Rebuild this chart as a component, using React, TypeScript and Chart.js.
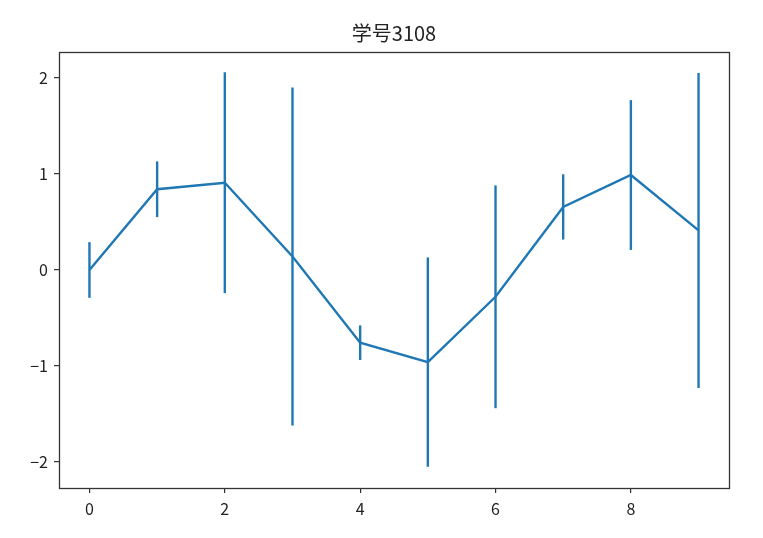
import React, { useEffect, useRef } from "react";
import { Chart, registerables } from "chart.js";

Chart.register(...registerables);

const TITLE = "学号3108";
const xValues = [0, 1, 2, 3, 4, 5, 6, 7, 8, 9];
const yValues = [0, 0.841, 0.909, 0.141, -0.757, -0.959, -0.279, 0.657, 0.989, 0.412];
const yErrors = [0.29, 0.29, 1.15, 1.76, 0.18, 1.09, 1.16, 0.34, 0.78, 1.64];
const xTicks = [0, 2, 4, 6, 8];
const yTicks = [-2, -1, 0, 1, 2];

const LINE_COLOR = "#1f77b4";
const FONT = "'Noto Sans CJK SC', 'DejaVu Sans', sans-serif";

const errorBarPlugin = {
  id: "errorBars",
  beforeDatasetsDraw(chart: any) {
    const { ctx, scales } = chart;
    const xs = scales.x;
    const ys = scales.y;
    ctx.save();
    ctx.strokeStyle = LINE_COLOR;
    ctx.lineWidth = 2.4;
    ctx.lineCap = "butt";
    xValues.forEach((xv, i) => {
      const px = xs.getPixelForValue(xv);
      const top = ys.getPixelForValue(yValues[i] + yErrors[i]);
      const bot = ys.getPixelForValue(yValues[i] - yErrors[i]);
      ctx.beginPath();
      ctx.moveTo(px, top);
      ctx.lineTo(px, bot);
      ctx.stroke();
    });
    ctx.restore();
  },
};

const framePlugin = {
  id: "frameAndTitle",
  afterDraw(chart: any) {
    const { ctx, chartArea } = chart;
    ctx.save();
    ctx.strokeStyle = "#333333";
    ctx.lineWidth = 1.3;
    ctx.strokeRect(
      Math.round(chartArea.left) + 0.5,
      Math.round(chartArea.top) + 0.5,
      Math.round(chartArea.right - chartArea.left),
      Math.round(chartArea.bottom - chartArea.top)
    );
    ctx.fillStyle = "#222222";
    ctx.font = `20px ${FONT}`;
    ctx.textAlign = "center";
    ctx.textBaseline = "middle";
    ctx.fillText(TITLE, (chartArea.left + chartArea.right) / 2, 33);
    ctx.restore();
  },
};

export default function App() {
  const canvasRef = useRef<HTMLCanvasElement | null>(null);

  useEffect(() => {
    if (!canvasRef.current) return;
    const chart = new Chart(canvasRef.current, {
      type: "line",
      data: {
        datasets: [
          {
            data: xValues.map((x, i) => ({ x, y: yValues[i] })),
            borderColor: LINE_COLOR,
            borderWidth: 2.4,
            pointRadius: 0,
            tension: 0,
            fill: false,
          },
        ],
      },
      options: {
        responsive: false,
        animation: false,
        devicePixelRatio: 1,
        layout: { padding: { top: 52, right: 34, left: 0, bottom: 0 } },
        plugins: {
          legend: { display: false },
          title: { display: false },
          tooltip: { enabled: false },
        },
        scales: {
          x: {
            type: "linear",
            min: -0.45,
            max: 9.45,
            afterBuildTicks(scale: any) {
              scale.ticks = xTicks.map((v) => ({ value: v }));
            },
            afterFit(scale: any) {
              scale.height = 50;
            },
            grid: {
              drawOnChartArea: false,
              drawTicks: true,
              tickLength: 5,
              color: "#333333",
              lineWidth: 1.2,
            },
            border: { display: false },
            ticks: {
              padding: 6,
              color: "#222222",
              font: { family: FONT, size: 16 },
              maxRotation: 0,
              callback: (v: any) => String(v).replace("-", "\u2212"),
            },
          },
          y: {
            type: "linear",
            min: -2.27,
            max: 2.27,
            afterBuildTicks(scale: any) {
              scale.ticks = yTicks.map((v) => ({ value: v }));
            },
            afterFit(scale: any) {
              scale.width = 59;
            },
            grid: {
              drawOnChartArea: false,
              drawTicks: true,
              tickLength: 5,
              color: "#333333",
              lineWidth: 1.2,
            },
            border: { display: false },
            ticks: {
              padding: 6,
              color: "#222222",
              font: { family: FONT, size: 16 },
              callback: (v: any) => String(v).replace("-", "\u2212"),
            },
          },
        },
      },
      plugins: [errorBarPlugin, framePlugin],
    });
    return () => chart.destroy();
  }, []);

  return (
    <div style={{ position: "absolute", left: 0, top: 0, width: 763, height: 538, background: "#ffffff" }}>
      <canvas ref={canvasRef} width={763} height={538} style={{ width: 763, height: 538 }} />
    </div>
  );
}
